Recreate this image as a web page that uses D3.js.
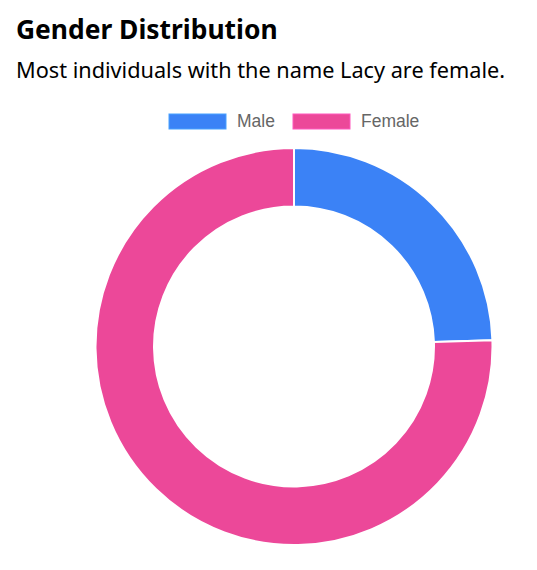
<!DOCTYPE html>
<html>
<head>
<meta charset="utf-8">
<script src="https://cdn.jsdelivr.net/npm/d3@7"></script>
<style>
  body { margin: 0; background: #fff; }
</style>
</head>
<body>
<div id="chart"></div>
<script>
var w = 537;
var h = 570;

// data
var labels = ["Male", "Female"];
var values = [24.5, 75.5];
var colors = ["#3b82f6", "#ec4899"];

var title = "Gender Distribution";
var subtitle = "Most individuals with the name Lacy are female.";

var svg = d3.select("#chart").append("svg")
  .attr("width", w)
  .attr("height", h);

svg.append("text")
  .attr("x", 16)
  .attr("y", 39)
  .style("font-family", "'Noto Sans', sans-serif")
  .style("font-weight", "bold")
  .style("font-size", "26.4px")
  .style("fill", "#000")
  .text(title);

svg.append("text")
  .attr("x", 16)
  .attr("y", 78)
  .style("font-family", "'Noto Sans', sans-serif")
  .style("font-size", "21.7px")
  .style("fill", "#000")
  .text(subtitle);

// legend
var legendX = [169, 293];
var legend = svg.selectAll(".legend")
    .data(labels)
  .enter().append("g")
    .attr("class", "legend")
    .attr("transform", function(d, i) { return "translate(" + legendX[i] + ",114)"; });

legend.append("rect")
  .attr("width", 57)
  .attr("height", 15)
  .style("fill", function(d, i) { return colors[i]; })
  .style("stroke", function(d, i) { return d3.rgb(colors[i]).brighter(0.6); })
  .style("stroke-width", 1);

legend.append("text")
  .attr("x", 68)
  .attr("y", 13)
  .style("font-family", "'Liberation Sans', Arial, sans-serif")
  .style("font-size", "17.5px")
  .style("fill", "#666")
  .text(function(d) { return d; });

// donut
var cx = 294, cy = 346.5;
var outerR = 198.5, innerR = 140;

var pie = d3.pie().sort(null).value(function(d) { return d; });
var arc = d3.arc().innerRadius(innerR).outerRadius(outerR);

svg.append("g")
    .attr("transform", "translate(" + cx + "," + cy + ")")
  .selectAll("path")
    .data(pie(values))
  .enter().append("path")
    .attr("d", arc)
    .style("fill", function(d, i) { return colors[i]; })
    .style("stroke", "#fff")
    .style("stroke-width", 2)
    .style("stroke-linejoin", "round");
</script>
</body>
</html>
